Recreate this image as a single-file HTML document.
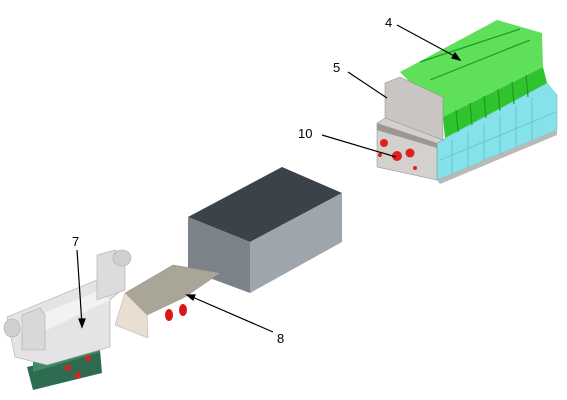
<!DOCTYPE html>
<html><head><meta charset="utf-8"><style>
html,body{margin:0;padding:0;background:#fff;}
svg{display:block;}
text{font-family:"Liberation Sans",Arial,sans-serif;font-size:13px;fill:#000;}
</style></head><body>
<svg width="567" height="400" viewBox="0 0 567 400">
<!-- manifold assembly -->
<g>
  <polygon points="437,143 547,83 557,95 557,130 437,180" fill="#86e2ea" stroke="#5bb" stroke-width="0.5"/>
  <g stroke="#55b5bf" stroke-width="0.6" fill="none">
    <line x1="440" y1="160" x2="556" y2="112"/>
    <line x1="452" y1="140" x2="452" y2="175"/><line x1="468" y1="132" x2="468" y2="168"/>
    <line x1="484" y1="124" x2="484" y2="161"/><line x1="500" y1="115" x2="500" y2="154"/>
    <line x1="516" y1="106" x2="516" y2="147"/><line x1="532" y1="97" x2="532" y2="140"/>
  </g>
  <polygon points="400,72 497,20 542,33 543,67 443,117" fill="#5ee05a"/>
  <polygon points="443,117 543,67 547,83 445,138" fill="#2fc42f"/>
  <g stroke="#1d9a1d" stroke-width="1.2">
    <line x1="456" y1="110" x2="458" y2="132"/><line x1="470" y1="103" x2="472" y2="125"/>
    <line x1="484" y1="96" x2="486" y2="118"/><line x1="498" y1="89" x2="500" y2="111"/>
    <line x1="512" y1="82" x2="514" y2="104"/><line x1="526" y1="75" x2="528" y2="97"/>
    <line x1="420" y1="62" x2="520" y2="29"/><line x1="430" y1="80" x2="530" y2="40"/>
  </g>
  <polygon points="385,83 400,77 443,97 443,140 385,123" fill="#c8c5c2" stroke="#888" stroke-width="0.5"/>
  <polygon points="377,123 385,118 443,140 437,143 437,180 377,167" fill="#d4d0cd" stroke="#888" stroke-width="0.5"/>
  <polygon points="377,123 437,143 437,148 377,130" fill="#9a9794"/>
  <polygon points="437,180 557,130 557,135 440,184" fill="#b9b9b9"/>
  <circle cx="384" cy="143" r="4" fill="#e02020"/><circle cx="397" cy="156" r="5" fill="#e02020"/>
  <circle cx="410" cy="153" r="4.5" fill="#e02020"/><circle cx="380" cy="155" r="2" fill="#e02020"/>
  <circle cx="415" cy="168" r="2" fill="#e02020"/>
</g>
<!-- black cover box -->
<g>
  <polygon points="188,217 282,167 342,193 250,242" fill="#3c424a"/>
  <polygon points="188,217 250,242 250,293 188,270" fill="#7c8289"/>
  <polygon points="250,242 342,193 342,242 250,293" fill="#9ea5ad"/>
</g>
<!-- plate -->
<g>
  <polygon points="125,293 173,265 220,273 185,297 147,315" fill="#aaa697" stroke="#888" stroke-width="0.5"/>
  <polygon points="115,325 125,293 147,315 148,338" fill="#e8dfd0" stroke="#aaa" stroke-width="0.5"/>
  <ellipse cx="169" cy="315" rx="4" ry="6" fill="#d81818"/>
  <ellipse cx="183" cy="310" rx="4" ry="6" fill="#d81818"/>
</g>
<!-- valve 7 -->
<g>
  <polygon points="27,367 100,350 102,373 33,390" fill="#2f6b50"/>
  <polygon points="33,360 100,340 100,352 33,372" fill="#3f8a66"/>
  <circle cx="68" cy="368" r="3" fill="#e02020"/><circle cx="78" cy="375" r="3" fill="#e02020"/><circle cx="88" cy="358" r="3" fill="#e02020"/>
  <polygon points="7,317 97,280 125,287 110,300 110,347 47,365 15,357" fill="#e4e4e6" stroke="#aaa" stroke-width="0.6"/>
  <polygon points="15,325 100,290 110,300 47,330" fill="#f2f2f3"/>
  <polygon points="97,255 115,250 125,258 125,290 97,300" fill="#dcdcde" stroke="#aaa" stroke-width="0.6"/>
  <ellipse cx="122" cy="258" rx="9" ry="8" fill="#d0d0d2" stroke="#aaa" stroke-width="0.6"/>
  <ellipse cx="12" cy="328" rx="8" ry="9" fill="#d0d0d2" stroke="#aaa" stroke-width="0.6"/>
  <polygon points="22,315 40,308 45,315 45,350 22,350" fill="#d8d8da" stroke="#aaa" stroke-width="0.6"/>
</g>
<!-- labels -->
<g stroke="#000" stroke-width="1.2" fill="none">
  <line x1="397" y1="25" x2="458" y2="58"/><polygon points="460,60 452,58 455,53" fill="#000"/>
  <line x1="348" y1="72" x2="387" y2="98"/>
  <line x1="322" y1="135" x2="396" y2="157"/>
  <line x1="77" y1="250" x2="82" y2="325"/><polygon points="82,327 79,319 85,319" fill="#000"/>
  <line x1="273" y1="332" x2="190" y2="296"/><polygon points="187,295 195,295 193,300" fill="#000"/>
</g>
<text x="385" y="27">4</text>
<text x="333" y="72">5</text>
<text x="298" y="138">10</text>
<text x="72" y="246">7</text>
<text x="277" y="343">8</text>
</svg>
</body></html>
